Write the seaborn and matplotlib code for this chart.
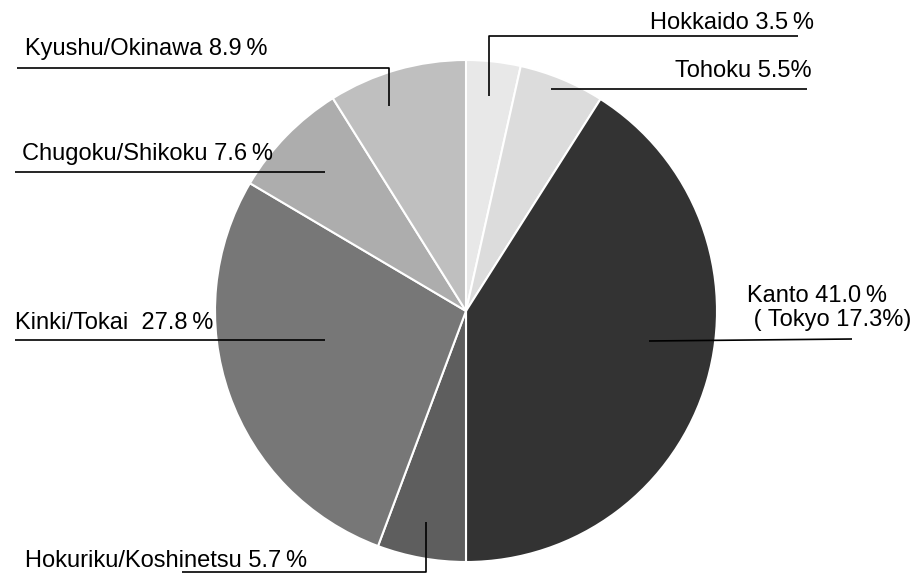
import matplotlib
matplotlib.use("Agg")
import matplotlib.pyplot as plt
import seaborn as sns

# data: share of companies by region (%)
regions = ["Hokkaido", "Tohoku", "Kanto", "Hokuriku/Koshinetsu",
           "Kinki/Tokai", "Chugoku/Shikoku", "Kyushu/Okinawa"]
shares = [3.5, 5.5, 41.0, 5.7, 27.8, 7.6, 8.9]
labels = ["Hokkaido 3.5\u2009%", "Tohoku 5.5%", "Kanto 41.0\u2009%\n ( Tokyo 17.3%)",
          "Hokuriku/Koshinetsu 5.7\u2009%", "Kinki/Tokai  27.8\u2009%",
          "Chugoku/Shikoku 7.6\u2009%", "Kyushu/Okinawa 8.9\u2009%"]
colors = ["#e8e8e8", "#dcdcdc", "#333333", "#5e5e5e",
          "#777777", "#adadad", "#bfbfbf"]

W, H = 917, 575

# label layout in pixel coords (top-left origin): text x, baseline y, ha, leader path
layout = [
    (814, 29, "right", [(798, 36), (489, 36), (489, 96)]),
    (812, 77, "right", [(807, 89), (551, 89)]),
    (747, 302, "left", [(852, 339), (649, 341)]),
    (25, 567, "left", [(426, 522), (426, 572), (182, 572)]),
    (15, 329, "left", [(15, 340), (325, 340)]),
    (22, 160, "left", [(15, 172), (325, 172)]),
    (25, 55, "left", [(17, 68), (389, 68), (389, 106)]),
]

sns.set_theme(style="white")
plt.rcParams["font.family"] = ["Liberation Sans", "DejaVu Sans"]

fig = plt.figure(figsize=(W / 100, H / 100), dpi=100)
ax = fig.add_axes([0, 0, 1, 1])

ax.pie(shares, colors=colors, startangle=90, counterclock=False,
       center=(466, H - 311), radius=251, frame=True,
       wedgeprops=dict(edgecolor="white", linewidth=1.5))
ax.set_xlim(0, W)
ax.set_ylim(0, H)
ax.axis("off")

for lab, (tx, ty, ha, path) in zip(labels, layout):
    xs = [p[0] for p in path]
    ys = [H - p[1] for p in path]
    ax.plot(xs, ys, color="black", lw=1.2, solid_capstyle="butt")
    for i, line in enumerate(lab.split("\n")):
        ax.text(tx, H - ty - 24 * i, line, ha=ha, va="baseline",
                fontsize=17, color="black")

plt.savefig("out.png", dpi=100)
